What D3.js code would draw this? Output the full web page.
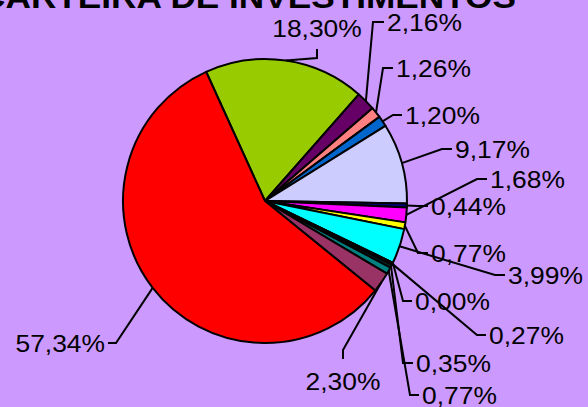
<!DOCTYPE html>
<html>
<head>
<meta charset="utf-8">
<script src="https://cdn.jsdelivr.net/npm/d3@7"></script>
<style>
  html, body { margin: 0; padding: 0; background: #CC99FF; }
  svg { display: block; }
  text { font-family: "Liberation Sans", Arial, sans-serif; fill: #000; }
</style>
</head>
<body>
<svg id="chart" width="588" height="407"></svg>
<script>
// ---- data ----
const title = "CARTEIRA DE INVESTIMENTOS";
const categories = ["S1","S2","S3","S4","S5","S6","S7","S8","S9","S10","S11","S12","S13","S14","S15"];
const values = [18.30, 2.16, 1.26, 1.20, 9.17, 0.44, 1.68, 0.77, 3.99, 0.00, 0.27, 0.35, 0.77, 2.30, 57.34];
const colors = ["#99CC00","#660066","#FF8080","#0066CC","#CCCCFF","#000080","#FF00FF","#FFFF00","#00FFFF","#800080","#800000","#003333","#008080","#993366","#FF0000"];

// ---- label layout (leader elbow + tick end, relative to pie centre) ----
// [elbowX, elbowY, tickX, tickY, mode]  mode: "r" text right of tick, "l" left, "u" above, "d" below
const labelLayout = [
  [52,-143, 52,-152, "u"],
  [108,-179, 119,-179, "r"],
  [118,-133, 128,-133, "r"],
  [128,-86, 137,-86, "r"],
  [177,-52, 187,-52, "r"],
  [153,5, 163,5, "r"],
  [212,-22, 222,-22, "r"],
  [153,52, 163,52, "r"],
  [230,74, 240,74, "r"],
  [138,100, 147,100, "r"],
  [212,134, 221,134, "r"],
  [138,162, 148,162, "r"],
  [145,194, 154,194, "r"],
  [78,149, 78,158, "d"],
  [-149,142, -157,142, "l"]
];

const W = 588, H = 407;
const cx = 265, cy = 201, R = 142;
const startAngle = -24.5 * Math.PI / 180;
const fontSize = 24, stretch = 1.1;

const svg = d3.select("#chart");
svg.append("rect").attr("width", W).attr("height", H).attr("fill", "#CC99FF");

const pie = d3.pie().sort(null).value(d => d)
  .startAngle(startAngle).endAngle(startAngle + 2 * Math.PI);
const arcs = pie(values);
const arc = d3.arc().innerRadius(0).outerRadius(R);
const edgeArc = d3.arc().innerRadius(R).outerRadius(R);

const g = svg.append("g").attr("transform", `translate(${cx},${cy})`);

g.selectAll("path.slice").data(arcs).join("path")
  .attr("class", "slice")
  .attr("d", arc)
  .attr("fill", (d, i) => colors[i])
  .attr("stroke", "#000")
  .attr("stroke-width", 2)
  .attr("stroke-linejoin", "round");

const fmt = v => v.toFixed(2).replace(".", ",") + "%";

// leader lines
g.selectAll("polyline.leader").data(arcs).join("polyline")
  .attr("class", "leader")
  .attr("fill", "none")
  .attr("stroke", "#000")
  .attr("stroke-width", 2)
  .attr("points", (d, i) => {
    const [ex, ey] = edgeArc.centroid(d);
    const L = labelLayout[i];
    return [[ex, ey], [L[0], L[1]], [L[2], L[3]]].map(p => p.join(",")).join(" ");
  });

// labels
g.selectAll("text.lbl").data(arcs).join("text")
  .attr("class", "lbl")
  .style("font-size", fontSize + "px")
  .text(d => fmt(d.data))
  .each(function(d, i) {
    const L = labelLayout[i], m = L[4];
    const t = d3.select(this);
    const len = this.getComputedTextLength() * stretch;
    t.attr("textLength", len).attr("lengthAdjust", "spacingAndGlyphs");
    let x, y;
    if (m === "r") { x = L[2] + 3; y = L[3] + 9; }
    else if (m === "l") { x = L[2] - 3 - len; y = L[3] + 9; }
    else if (m === "u") { x = L[2] - len / 2; y = L[3] - 12; }
    else { x = L[2] - len / 2; y = L[3] + 31; }
    t.attr("x", x).attr("y", y);
  });

// title (partly clipped at top, as in the original)
const tt = svg.append("text")
  .attr("font-weight", "bold")
  .style("font-size", "32px")
  .text(title);
const tlen = tt.node().getComputedTextLength() * stretch;
tt.attr("textLength", tlen).attr("lengthAdjust", "spacingAndGlyphs")
  .attr("x", 248 - tlen / 2).attr("y", 8);
</script>
</body>
</html>
